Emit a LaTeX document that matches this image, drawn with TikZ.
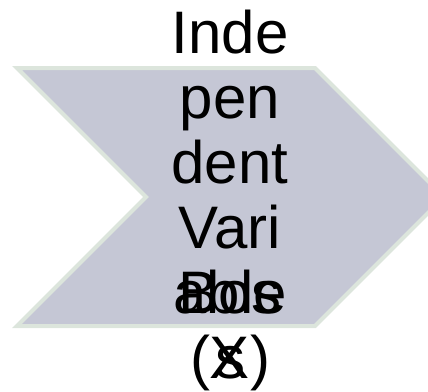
\documentclass[tikz,border=0pt]{standalone}
\usepackage{fontspec}
\setmainfont{Liberation Sans}
\definecolor{chevfill}{HTML}{C5C7D5}
\definecolor{chevline}{HTML}{DCE5DC}
\begin{document}
\begin{tikzpicture}[x=1pt,y=-1pt,
  chev/.style={fill=chevfill,draw=chevline,line width=4pt,line join=miter},
  word/.style={anchor=base,inner sep=0pt,font=\fontsize{60}{65}\selectfont,text=black}]
\useasboundingbox (0,0) rectangle (428,391);
\clip (0,0) rectangle (428,391);
\path[chev] (17,68) -- (315,68) -- (444,197) -- (315,326) -- (17,326) -- (146,197) -- cycle;
\node[word] (l1) at (230,53) {Inde};
\node[word] (l2) at (230,118) {pen};
\node[word] (l3) at (230,183) {dent};
\node[word] (l4) at (230,248) {Vari};
\node[word] (l5) at (230,313) {able};
\node[word] (l6) at (230,378) {(X)};
\node[word] (b1) at (230,313) {Bos};
\node[word] (b2) at (230,378) {s};
\end{tikzpicture}
\end{document}
